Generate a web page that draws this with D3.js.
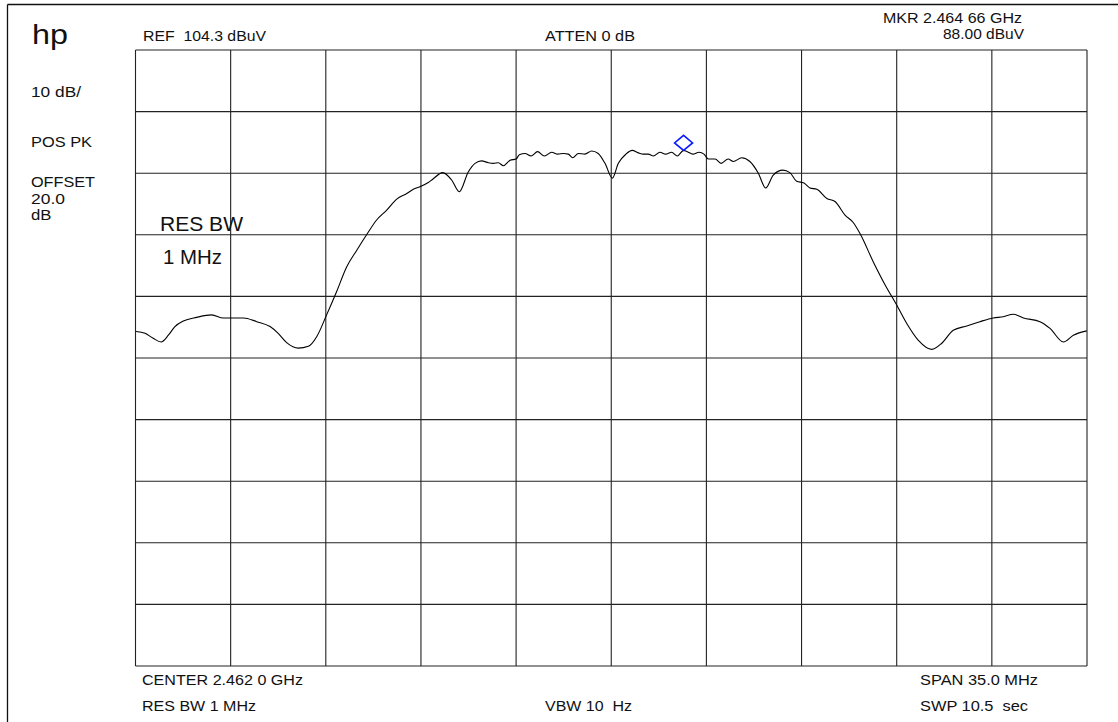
<!DOCTYPE html>
<html>
<head>
<meta charset="utf-8">
<script src="https://d3js.org/d3.v7.min.js"></script>
<style>
  html, body { margin: 0; padding: 0; background: #fff; }
  svg { display: block; }
  text { font-family: "Liberation Sans", Arial, Helvetica, sans-serif; fill: #111; white-space: pre; }
</style>
</head>
<body>
<svg id="chart" width="1118" height="722"></svg>
<script>
// ---- data ----
// frequency offset from center (MHz)
const freqOffsets = [
  -17.48, -17.15, -16.85, -16.56, -16.29, -16.05, -15.74, -15.25, -14.70, -14.27,
  -13.53, -13.04, -12.55, -12.25, -11.94, -11.51, -11.14, -10.83, -10.47, -10.10,
  -9.73, -9.36, -9.00, -8.63, -8.26, -7.89, -7.52, -7.28, -7.04, -6.73,
  -6.60, -6.20, -5.87, -5.59, -5.26, -5.01, -4.77, -4.52, -4.34, -4.15,
  -3.97, -3.72, -3.50, -3.38, -3.17, -2.95, -2.71, -2.46, -2.19, -1.97,
  -1.76, -1.58, -1.42, -1.21, -0.97, -0.72, -0.48, -0.23, 0.04, 0.26,
  0.54, 0.77, 1.00, 1.18, 1.36, 1.55, 1.79, 2.00, 2.22, 2.43,
  2.66, 2.80, 3.00, 3.23, 3.41, 3.57, 3.82, 4.04, 4.30, 4.49,
  4.80, 5.10, 5.41, 5.68, 5.96, 6.31, 6.57, 6.82, 7.09, 7.31,
  7.56, 7.93, 8.23, 8.60, 8.90, 9.15, 9.64, 10.07, 10.50, 10.87,
  11.29, 11.79, 12.16, 12.58, 13.08, 13.56, 14.05, 14.42, 14.79, 15.16,
  15.77, 16.14, 16.63, 17.00, 17.49
];
// trace level (dBuV)
const levels = [
  58.6, 58.3, 57.5, 56.9, 58.0, 59.4, 60.3, 60.9, 61.3, 60.8,
  60.8, 60.2, 59.4, 58.3, 56.8, 55.9, 56.2, 57.8, 61.3, 65.1,
  69.1, 71.8, 74.3, 76.7, 78.3, 80.1, 81.0, 81.7, 82.1, 82.8,
  83.2, 84.4, 83.2, 81.3, 84.5, 85.9, 86.3, 86.0, 85.9, 86.0,
  85.5, 86.4, 86.6, 87.3, 87.5, 87.1, 87.8, 87.1, 87.7, 87.4,
  87.5, 87.4, 86.8, 87.5, 87.4, 87.9, 87.5, 85.9, 83.5, 85.9,
  87.4, 88.0, 87.6, 87.4, 87.4, 87.1, 87.7, 87.4, 87.7, 87.1,
  88.0, 87.8, 87.4, 87.7, 87.4, 86.6, 86.6, 85.9, 86.6, 86.2,
  86.8, 86.2, 84.3, 81.9, 84.0, 84.8, 84.4, 83.0, 82.7, 81.9,
  81.7, 80.2, 79.7, 77.5, 76.3, 74.5, 69.9, 66.2, 62.9, 59.9,
  57.2, 55.7, 56.7, 58.8, 59.5, 60.2, 60.8, 61.0, 61.4, 60.8,
  60.2, 59.1, 56.9, 58.0, 58.7
];
const markerFreq = 2.66;      // MHz offset (2.464 66 GHz)
const markerLevel = 88.00;    // dBuV
const refLevel = 104.3;
const dbPerDiv = 10;
const spanMHz = 35.0;
const divisions = 10;

const headerLabels = ["REF  104.3 dBuV", "ATTEN 0 dB", "MKR 2.464 66 GHz", "88.00 dBuV"];
const sideLabels = ["10 dB/", "POS PK", "OFFSET", "20.0", "dB"];
const footerLabels = ["CENTER 2.462 0 GHz", "RES BW 1 MHz", "VBW 10  Hz", "SPAN 35.0 MHz", "SWP 10.5  sec"];
const annotation = ["RES BW", "1 MHz"];

// ---- drawing ----
const svg = d3.select("#chart");
const plot = { left: 135.5, right: 1087, top: 50, bottom: 666 };

const x = d3.scaleLinear().domain([-spanMHz / 2, spanMHz / 2]).range([plot.left, plot.right]);
const y = d3.scaleLinear().domain([refLevel - dbPerDiv * divisions, refLevel]).range([plot.bottom, plot.top]);

// outer frame (top and left edges)
svg.append("line").attr("x1", 7.5).attr("x2", 1118).attr("y1", 4.5).attr("y2", 4.5)
  .attr("stroke", "#111").attr("stroke-width", 1.3);
svg.append("line").attr("x1", 7.5).attr("x2", 7.5).attr("y1", 4.5).attr("y2", 722)
  .attr("stroke", "#111").attr("stroke-width", 1.3);

// grid
const xTicks = d3.range(divisions + 1).map(i => -spanMHz / 2 + i * spanMHz / divisions);
const yTicks = d3.range(divisions + 1).map(i => refLevel - i * dbPerDiv);
const grid = svg.append("g").attr("stroke", "#222").attr("stroke-width", 1.1);
grid.selectAll("line.v").data(xTicks).join("line")
  .attr("x1", d => x(d)).attr("x2", d => x(d))
  .attr("y1", plot.top).attr("y2", plot.bottom);
grid.selectAll("line.h").data(yTicks).join("line")
  .attr("x1", plot.left).attr("x2", plot.right)
  .attr("y1", d => y(d)).attr("y2", d => y(d));

// trace
const pts = freqOffsets.map((f, i) => [f, levels[i]]);
const line = d3.line().x(d => x(d[0])).y(d => y(d[1])).curve(d3.curveMonotoneX);
svg.append("path").datum(pts).attr("d", line)
  .attr("fill", "none").attr("stroke", "#000").attr("stroke-width", 1.1);

// marker diamond (bottom vertex on trace point)
const mx = x(markerFreq), my = y(markerLevel);
svg.append("path")
  .attr("d", `M${mx},${my} L${mx + 9},${my - 7.5} L${mx},${my - 15} L${mx - 9},${my - 7.5} Z`)
  .attr("fill", "none").attr("stroke", "#0a1cff").attr("stroke-width", 1.6);

// text helper
function label(str, xx, yy, size, len, anchor) {
  const t = svg.append("text").attr("x", xx).attr("y", yy)
    .attr("font-size", size).text(str);
  if (anchor) t.attr("text-anchor", anchor);
  if (len) t.attr("textLength", len).attr("lengthAdjust", "spacingAndGlyphs");
  return t;
}

label("hp", 32, 44, 27, 36);

label(headerLabels[0], 143, 41, 15, 123);
label(headerLabels[1], 545, 41, 15, 90);
label(headerLabels[2], 883, 22.5, 15, 139);
label(headerLabels[3], 943, 38.5, 15, 81);

label(sideLabels[0], 31, 96.5, 15, 50);
label(sideLabels[1], 31, 146.5, 15, 61);
label(sideLabels[2], 31, 186.5, 15, 64);
label(sideLabels[3], 31, 203.5, 15, 34);
label(sideLabels[4], 31, 220, 15, 20.5);

label(annotation[0], 160, 231, 21, 83);
label(annotation[1], 163, 264, 21, 59);

label(footerLabels[0], 142, 685, 15, 161);
label(footerLabels[1], 142, 711, 15, 114);
label(footerLabels[2], 545, 711, 15, 87);
label(footerLabels[3], 920, 685, 15, 118);
label(footerLabels[4], 920, 711, 15, 108);
</script>
</body>
</html>
